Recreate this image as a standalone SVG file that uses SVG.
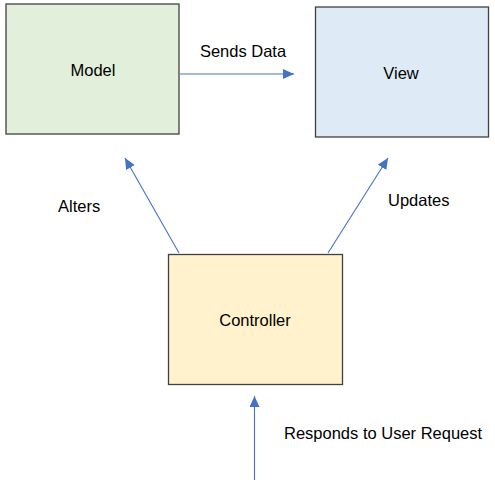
<svg xmlns="http://www.w3.org/2000/svg" width="495" height="491" viewBox="0 0 495 491">
<defs>
<style>
.box{stroke:#404040;stroke-width:1.3}
.lbl{font-family:"Liberation Sans",Arial,sans-serif;font-size:16.5px;fill:#000}
.mid{text-anchor:middle}
.conn{stroke:#4472C4;stroke-width:1.1;fill:none;marker-end:url(#ah)}
</style>
<marker id="ah" markerUnits="userSpaceOnUse" markerWidth="12" markerHeight="10" refX="11" refY="5" orient="auto">
<path d="M0,0 L11,5 L0,10 Z" fill="#4472C4"/>
</marker>
</defs>
<rect width="495" height="491" fill="#fff"/>
<g id="model">
<rect class="box" x="6" y="4" width="173" height="130" fill="#E2EFDA"/>
<text class="lbl mid" x="93" y="76">Model</text>
</g>
<g id="view">
<rect class="box" x="315.5" y="7" width="173" height="130" fill="#DEEBF7"/>
<text class="lbl mid" x="401" y="79">View</text>
</g>
<g id="controller">
<rect class="box" x="168.5" y="254.5" width="174" height="130" fill="#FFF2CC"/>
<text class="lbl mid" x="255" y="326">Controller</text>
</g>
<g id="connectors">
<line class="conn" x1="180" y1="74" x2="294" y2="74"/>
<line class="conn" x1="179" y1="253" x2="125" y2="158"/>
<line class="conn" x1="328" y1="253" x2="388" y2="158"/>
<line class="conn" x1="254.5" y1="480" x2="254.5" y2="396"/>
<text class="lbl mid" x="243" y="57">Sends Data</text>
<text class="lbl" x="58" y="212">Alters</text>
<text class="lbl" x="388" y="206">Updates</text>
<text class="lbl" x="284" y="439">Responds to User Request</text>
</g>
</svg>
